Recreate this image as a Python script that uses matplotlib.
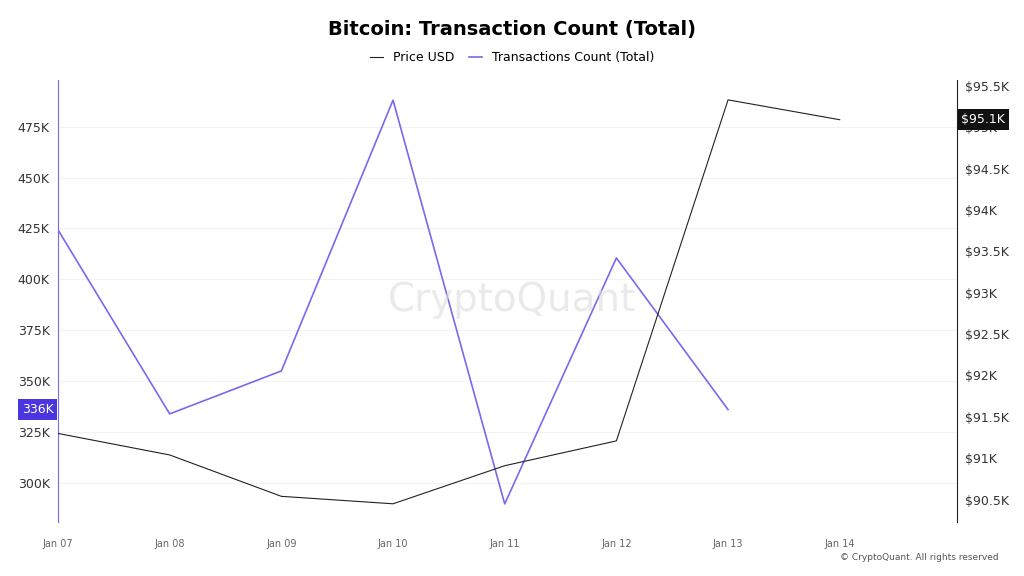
import matplotlib
matplotlib.use("Agg")
import matplotlib.pyplot as plt
import numpy as np

dates = ["Jan 07","Jan 08","Jan 09","Jan 10","Jan 11","Jan 12","Jan 13","Jan 14"]
tx = [424.3, 333.9, 355.0, 488.0, 289.7, 410.5, 336.0]
price = [91.30, 91.04, 90.54, 90.45, 90.91, 91.21, 95.33, 95.09]

fig = plt.figure(figsize=(10.24,5.76), dpi=100)
ax = fig.add_axes([58/1024, 1-522/576, (957-58)/1024, (522-80)/576])
ax2 = ax.twinx()
x = np.arange(len(dates))
purple = "#7b68ee"
ax.plot(x[:len(tx)], tx, color=purple, lw=1.2)
ax2.plot(x, price, color="#222222", lw=0.8)
ax.set_xlim(0, 8.05)
ax.set_ylim(280.8, 497.9)
ax2.set_ylim(90.23, 95.57)
ax.set_xticks(x)
ax.set_xticklabels(dates, fontsize=7, color="#666")
lt = [300,325,350,375,400,425,450,475]
ax.set_yticks(lt)
ax.set_yticklabels([f"{v}K" for v in lt], fontsize=9, color="#333")
rt = np.arange(90.5, 95.51, 0.5)
ax2.set_yticks(rt)
ax2.set_yticklabels([f"${v:g}K" for v in rt], fontsize=9, color="#333")
ax.grid(axis="y", color="#f2f2f2", lw=0.8)
for s in ["top","bottom"]:
    ax.spines[s].set_visible(False); ax2.spines[s].set_visible(False)
ax2.spines["left"].set_visible(False)
ax.spines["right"].set_visible(False)
ax.spines["left"].set_color(purple)
ax2.spines["right"].set_color("#222")
ax.tick_params(axis="both", length=0, pad=6)
ax2.tick_params(axis="y", length=0, pad=6)
ax.tick_params(axis="x", pad=12)
ax.text(-0.005, 336, "336K", transform=ax.get_yaxis_transform(), ha="right", va="center",
        fontsize=9, color="white", bbox=dict(boxstyle="square,pad=0.3", fc="#4b35e0", ec="none"))
ax2.text(1.005, 95.09, "$95.1K", transform=ax2.get_yaxis_transform(), ha="left", va="center",
        fontsize=9, color="white", bbox=dict(boxstyle="square,pad=0.3", fc="#111", ec="none"))
fig.text(0.5, 0.948, "Bitcoin: Transaction Count (Total)", ha="center", va="center", fontsize=14, fontweight="bold")
from matplotlib.lines import Line2D
fig.legend([Line2D([],[],color="#222",lw=0.8), Line2D([],[],color=purple,lw=1.2)],
           ["Price USD","Transactions Count (Total)"], loc="center", bbox_to_anchor=(0.5,0.9),
           ncol=2, frameon=False, fontsize=9, handlelength=1, columnspacing=1.2)
fig.text(0.5, 0.48, "CryptoQuant", ha="center", va="center", fontsize=28, color="#dddddd", alpha=0.6)
fig.text(0.975, 0.028, "© CryptoQuant. All rights reserved", ha="right", fontsize=6.5, color="#555")
fig.savefig("out.png")
